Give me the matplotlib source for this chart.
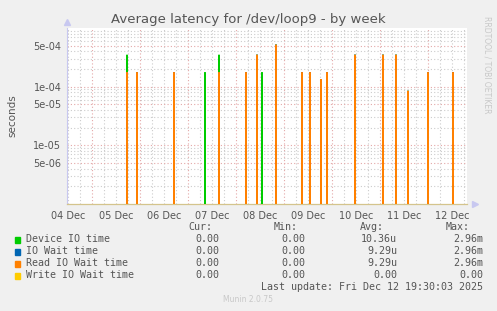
import matplotlib
matplotlib.use("Agg")
import matplotlib.pyplot as plt
import matplotlib.dates as mdates
from datetime import datetime, timedelta
import numpy as np

# ---- data ----
start_time = "2025-12-04 11:30"
end_time = "2025-12-12 19:30"
step_minutes = 30

spike_times = [
    "2025-12-05 17:30", "2025-12-05 22:30", "2025-12-06 17:00", "2025-12-07 08:30",
    "2025-12-07 15:30", "2025-12-08 05:00", "2025-12-08 10:30", "2025-12-08 13:00",
    "2025-12-08 20:00", "2025-12-09 09:00", "2025-12-09 13:00", "2025-12-09 18:30",
    "2025-12-09 21:30", "2025-12-10 11:30", "2025-12-11 01:30", "2025-12-11 08:00",
    "2025-12-11 14:00", "2025-12-12 00:00", "2025-12-12 12:30",
]
device_io = [3.5e-4, 1.76e-4, 1.76e-4, 1.76e-4, 3.5e-4, 1.76e-4, 3.5e-4, 1.76e-4,
             5.2e-4, 1.76e-4, 1.76e-4, 1.35e-4, 1.76e-4, 3.5e-4, 3.5e-4, 3.5e-4,
             8.5e-5, 1.76e-4, 1.76e-4]
io_wait = [1.76e-4, 1.76e-4, 1.76e-4, 0.0, 1.76e-4, 1.76e-4, 3.5e-4, 0.0,
           5.2e-4, 1.76e-4, 1.76e-4, 1.35e-4, 1.76e-4, 3.5e-4, 3.5e-4, 3.5e-4,
           8.5e-5, 1.76e-4, 1.76e-4]
read_wait = list(io_wait)
write_wait = [0.0] * len(spike_times)

series_names = ["Device IO time", "IO Wait time", "Read IO Wait time", "Write IO Wait time"]
series_colors = ["#00CC00", "#0066B3", "#FF8000", "#FFCC00"]
cur_vals = ["0.00", "0.00", "0.00", "0.00"]
min_vals = ["0.00", "0.00", "0.00", "0.00"]
avg_vals = ["10.36u", "9.29u", "9.29u", "0.00"]
max_vals = ["2.96m", "2.96m", "2.96m", "0.00"]
ytick_vals = [5e-6, 1e-5, 5e-5, 1e-4, 5e-4]
ytick_labels = ["5e-06", "1e-05", "5e-05", "1e-04", "5e-04"]
day_labels = ["04 Dec", "05 Dec", "06 Dec", "07 Dec", "08 Dec", "09 Dec", "10 Dec", "11 Dec", "12 Dec"]

# ---- build time series ----
fmt = "%Y-%m-%d %H:%M"
t0 = datetime.strptime(start_time, fmt)
t1 = datetime.strptime(end_time, fmt)
n = int((t1 - t0).total_seconds() // (step_minutes * 60)) + 1
times = [t0 + timedelta(minutes=step_minutes * i) for i in range(n)]
idx = {t: i for i, t in enumerate(times)}

def build(vals):
    arr = np.zeros(n)
    for ts, v in zip(spike_times, vals):
        arr[idx[datetime.strptime(ts, fmt)]] = v
    return arr

all_series = [build(device_io), build(io_wait), build(read_wait), build(write_wait)]

# ---- figure ----
W, H = 497, 311
fig = plt.figure(figsize=(W / 100, H / 100), dpi=100, facecolor="#F0F0F0")
L, R, T, B = 67, 467, 28, 204
ax = fig.add_axes([L / W, 1 - B / H, (R - L) / W, (B - T) / H])
ax.set_facecolor("white")
ax.set_yscale("log", nonpositive="clip")
ax.set_ylim(1e-6, 1e-3)
ax.set_xlim(t0, t1)

# grid
gray = "#CCCCCC"
red = "#E4A8A8"
for d in range(-1, 10):
    base = datetime(2025, 12, 4) + timedelta(days=d)
    for h in (0, 6, 12, 18):
        t = base + timedelta(hours=h)
        if t0 < t < t1:
            if h == 0:
                ax.axvline(t, color=red, lw=0.8, ls=(0, (1, 2)), zorder=1)
            else:
                ax.axvline(t, color=gray, lw=0.8, ls=(0, (1, 2)), zorder=1)
for dec in (1e-6, 1e-5, 1e-4):
    for m in range(1, 10):
        v = dec * m
        if v <= 1e-6 or v >= 1e-3:
            continue
        is_major = any(abs(v - tv) / tv < 1e-6 for tv in ytick_vals)
        ax.axhline(v, color=red if is_major else gray, lw=0.8, ls=(0, (1, 2)), zorder=1)

for s, c in zip(all_series, series_colors):
    ax.plot(times, s, color=c, lw=0.9, zorder=3, solid_joinstyle="miter")

# ticks
ax.set_yticks(ytick_vals)
ax.set_yticklabels(ytick_labels)
ax.yaxis.set_minor_locator(matplotlib.ticker.NullLocator())
noon_ticks = [datetime(2025, 12, 4, 12) + timedelta(days=i) for i in range(len(day_labels))]
ax.set_xticks(noon_ticks)
ax.set_xticklabels(day_labels)
ax.tick_params(axis="both", length=0, labelsize=7, labelcolor="#555555", pad=4)
ax.tick_params(axis="x", pad=5)

for sp in ("top", "right"):
    ax.spines[sp].set_visible(False)
ax.spines["left"].set_color("#C8C8F0")
ax.spines["left"].set_linewidth(0.8)
ax.spines["bottom"].set_color("#D4C48C")
ax.spines["bottom"].set_linewidth(0.9)
# axis arrows
ax.plot([0], [1.035], marker="^", color="#C8C8F0", ms=4, transform=ax.transAxes, clip_on=False)
ax.plot([1.02], [0], marker=">", color="#C8C8F0", ms=4, transform=ax.transAxes, clip_on=False)

fig.text(12 / W, 1 - 116 / H, "seconds", rotation=90, ha="center", va="center",
         fontsize=7.5, color="#555555")

# title & side text
fig.text(248 / W, 1 - 19 / H, "Average latency for /dev/loop9 - by week",
         ha="center", va="center", fontsize=9.5, color="#555555")
fig.text(487 / W, 1 - 65 / H, "RRDTOOL / TOBI OETIKER", rotation=-90,
         ha="center", va="center", fontsize=5.5, color="#C8C8C8")

# legend
mono = "DejaVu Sans Mono"
fs = 7.2
tc = "#555555"
def yf(y):
    return 1 - y / H
fig.text(212 / W, yf(227.5), "Cur:", ha="right", va="center", family=mono, fontsize=fs, color=tc)
fig.text(298 / W, yf(227.5), "Min:", ha="right", va="center", family=mono, fontsize=fs, color=tc)
fig.text(384 / W, yf(227.5), "Avg:", ha="right", va="center", family=mono, fontsize=fs, color=tc)
fig.text(470 / W, yf(227.5), "Max:", ha="right", va="center", family=mono, fontsize=fs, color=tc)
rows_y = [239.5, 251.5, 263.5, 275.5]
for i, y in enumerate(rows_y):
    fig.patches.append(matplotlib.patches.Rectangle(((14.5) / W, yf(y + 3)), 5.5 / W, 5.5 / H,
                                                    transform=fig.transFigure, color=series_colors[i]))
    fig.text(26 / W, yf(y), series_names[i], ha="left", va="center", family=mono, fontsize=fs, color=tc)
    fig.text(219 / W, yf(y), cur_vals[i], ha="right", va="center", family=mono, fontsize=fs, color=tc)
    fig.text(305 / W, yf(y), min_vals[i], ha="right", va="center", family=mono, fontsize=fs, color=tc)
    fig.text(397 / W, yf(y), avg_vals[i], ha="right", va="center", family=mono, fontsize=fs, color=tc)
    fig.text(483 / W, yf(y), max_vals[i], ha="right", va="center", family=mono, fontsize=fs, color=tc)
fig.text(483 / W, yf(287.5), "Last update: Fri Dec 12 19:30:03 2025", ha="right", va="center",
         family=mono, fontsize=fs, color=tc)
fig.text(248 / W, yf(300), "Munin 2.0.75", ha="center", va="center", fontsize=5.5, color="#C8C8C8")

fig.savefig("out.png", dpi=100, facecolor=fig.get_facecolor())
